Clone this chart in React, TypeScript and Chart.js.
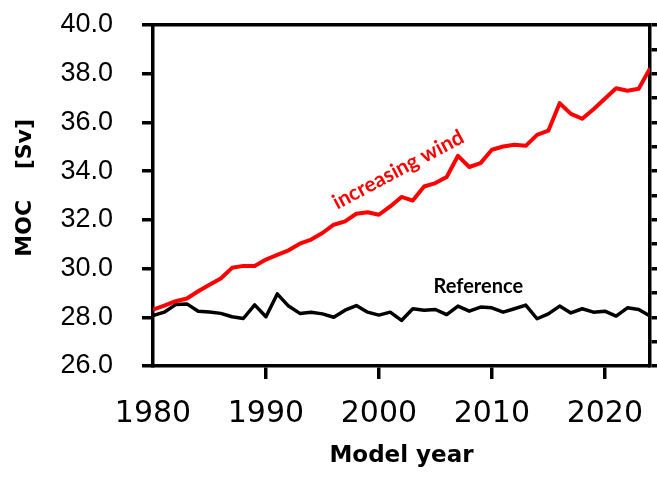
import React, { useEffect, useRef } from 'react';
import { Chart, registerables } from 'chart.js';

Chart.register(...registerables);

const years = [
  1980, 1981, 1982, 1983, 1984, 1985, 1986, 1987, 1988, 1989,
  1990, 1991, 1992, 1993, 1994, 1995, 1996, 1997, 1998, 1999,
  2000, 2001, 2002, 2003, 2004, 2005, 2006, 2007, 2008, 2009,
  2010, 2011, 2012, 2013, 2014, 2015, 2016, 2017, 2018, 2019,
  2020, 2021, 2022, 2023, 2024,
];

const increasingWind = [
  28.32, 28.48, 28.66, 28.77, 29.07, 29.34, 29.59, 30.03, 30.11, 30.11,
  30.37, 30.56, 30.75, 31.02, 31.19, 31.46, 31.8, 31.94, 32.25, 32.31,
  32.21, 32.55, 32.94, 32.79, 33.37, 33.51, 33.76, 34.63, 34.17, 34.33,
  34.88, 35.01, 35.08, 35.04, 35.49, 35.66, 36.79, 36.35, 36.15, 36.54,
  36.97, 37.4, 37.3, 37.38, 38.22,
];

const reference = [
  28.07, 28.21, 28.52, 28.55, 28.25, 28.22, 28.16, 28.02, 27.95, 28.51,
  28.02, 28.96, 28.46, 28.16, 28.21, 28.14, 28.0, 28.29, 28.48, 28.21,
  28.09, 28.21, 27.87, 28.35, 28.29, 28.32, 28.11, 28.46, 28.25, 28.42,
  28.39, 28.21, 28.35, 28.5, 27.94, 28.14, 28.46, 28.18, 28.35, 28.21,
  28.25, 28.05, 28.39, 28.32, 28.05,
];

const xTickYears = [1980, 1990, 2000, 2010, 2020];
const yMin = 26;
const yMax = 40;
const xMin = 1980;
const xMax = 2024;

const seriesLabels = ['increasing wind', 'Reference'];

const annotationNotes = [
  { text: 'increasing wind', x: 2001.7, y: 34.06, angle: -28, color: '#ff0000', size: 21 },
  { text: 'Reference', x: 2008.8, y: 29.26, angle: 0, color: '#000000', size: 20 },
];

const notesPlugin = {
  id: 'notes',
  afterDatasetsDraw(chart: any) {
    const { ctx, scales } = chart;
    ctx.save();
    for (const n of annotationNotes) {
      const px = scales.x.getPixelForValue(n.x);
      const py = scales.y.getPixelForValue(n.y);
      ctx.save();
      ctx.translate(px, py);
      ctx.rotate((n.angle * Math.PI) / 180);
      ctx.font = `bold ${n.size}px Lato`;
      ctx.fillStyle = n.color;
      ctx.textAlign = 'center';
      ctx.textBaseline = 'middle';
      ctx.fillText(n.text, 0, 0);
      ctx.restore();
    }
    ctx.restore();
  },
};

const noPad = (axis: any) => {
  axis.paddingTop = 0;
  axis.paddingBottom = 0;
  axis.paddingLeft = 0;
  axis.paddingRight = 0;
};

export default function App() {
  const ref = useRef<HTMLCanvasElement | null>(null);

  useEffect(() => {
    if (!ref.current) return;
    const chart = new Chart(ref.current, {
      type: 'line',
      data: {
        datasets: [
          {
            label: seriesLabels[0],
            data: years.map((yr, i) => ({ x: yr, y: increasingWind[i] })),
            borderColor: '#ff0000',
            borderWidth: 4,
            pointRadius: 0,
            tension: 0,
            borderJoinStyle: 'round',
            xAxisID: 'x',
            yAxisID: 'y',
          },
          {
            label: seriesLabels[1],
            data: years.map((yr, i) => ({ x: yr, y: reference[i] })),
            borderColor: '#000000',
            borderWidth: 3.5,
            pointRadius: 0,
            tension: 0,
            borderJoinStyle: 'round',
            xAxisID: 'x',
            yAxisID: 'y',
          },
        ],
      },
      options: {
        animation: false,
        responsive: false,
        maintainAspectRatio: false,
        layout: { padding: 0 },
        plugins: {
          legend: { display: false },
          tooltip: { enabled: false },
        },
        scales: {
          x: {
            type: 'linear',
            position: 'bottom',
            min: xMin,
            max: xMax,
            afterBuildTicks: (axis: any) => {
              axis.ticks = xTickYears.map((v) => ({ value: v }));
            },
            afterFit: (axis: any) => {
              axis.height = 114;
              noPad(axis);
            },
            ticks: {
              includeBounds: false,
              stepSize: 10,
              color: '#000',
              font: { family: 'DejaVu Sans', size: 30 },
              padding: 17,
              maxRotation: 0,
              autoSkip: false,
              callback: (v: any) => String(v),
            },
            grid: {
              drawOnChartArea: false,
              drawTicks: true,
              tickLength: 13,
              color: '#000',
              lineWidth: (c: any) => (c.tick && c.tick.value === xMin ? 0 : 3.5),
            },
            border: { display: true, color: '#000', width: 3.5 },
            title: {
              display: true,
              text: 'Model year',
              color: '#000',
              font: { family: 'DejaVu Sans', size: 23, weight: 'bold' },
              padding: { top: 0, bottom: 10 },
            },
          },
          x2: {
            type: 'linear',
            position: 'top',
            min: xMin,
            max: xMax,
            afterFit: (axis: any) => {
              axis.height = 25;
              noPad(axis);
            },
            ticks: { display: false },
            grid: { display: false, drawTicks: false },
            border: { display: true, color: '#000', width: 3.5 },
          },
          y: {
            type: 'linear',
            position: 'left',
            min: yMin,
            max: yMax,
            afterFit: (axis: any) => {
              axis.width = 153;
              noPad(axis);
            },
            ticks: {
              stepSize: 1,
              color: '#000',
              font: { family: 'Liberation Sans', size: 27 },
              padding: 29,
              callback: (v: any) => (Number(v) % 2 === 0 ? Number(v).toFixed(1) : ''),
            },
            grid: {
              drawOnChartArea: false,
              drawTicks: true,
              tickLength: 11,
              color: '#000',
              lineWidth: 3.5,
            },
            border: { display: true, color: '#000', width: 3.5 },
            title: {
              display: true,
              text: '  MOC    [Sv]',
              color: '#000',
              font: { family: 'DejaVu Sans', size: 22, weight: 'bold' },
              padding: { top: 12, bottom: 0 },
            },
          },
          y2: {
            type: 'linear',
            position: 'right',
            min: yMin,
            max: yMax,
            afterFit: (axis: any) => {
              axis.width = 7;
              noPad(axis);
            },
            ticks: { display: false, stepSize: 1 },
            grid: {
              drawOnChartArea: false,
              drawTicks: true,
              tickLength: 7,
              color: '#000',
              lineWidth: 3.5,
            },
            border: { display: true, color: '#000', width: 3.5 },
          },
        },
      } as any,
      plugins: [notesPlugin],
    });
    return () => chart.destroy();
  }, []);

  return (
    <div style={{ position: 'fixed', left: 0, top: 0, width: 657, height: 480, background: '#fff' }}>
      <canvas ref={ref} width={657} height={480} style={{ display: 'block' }} />
    </div>
  );
}
